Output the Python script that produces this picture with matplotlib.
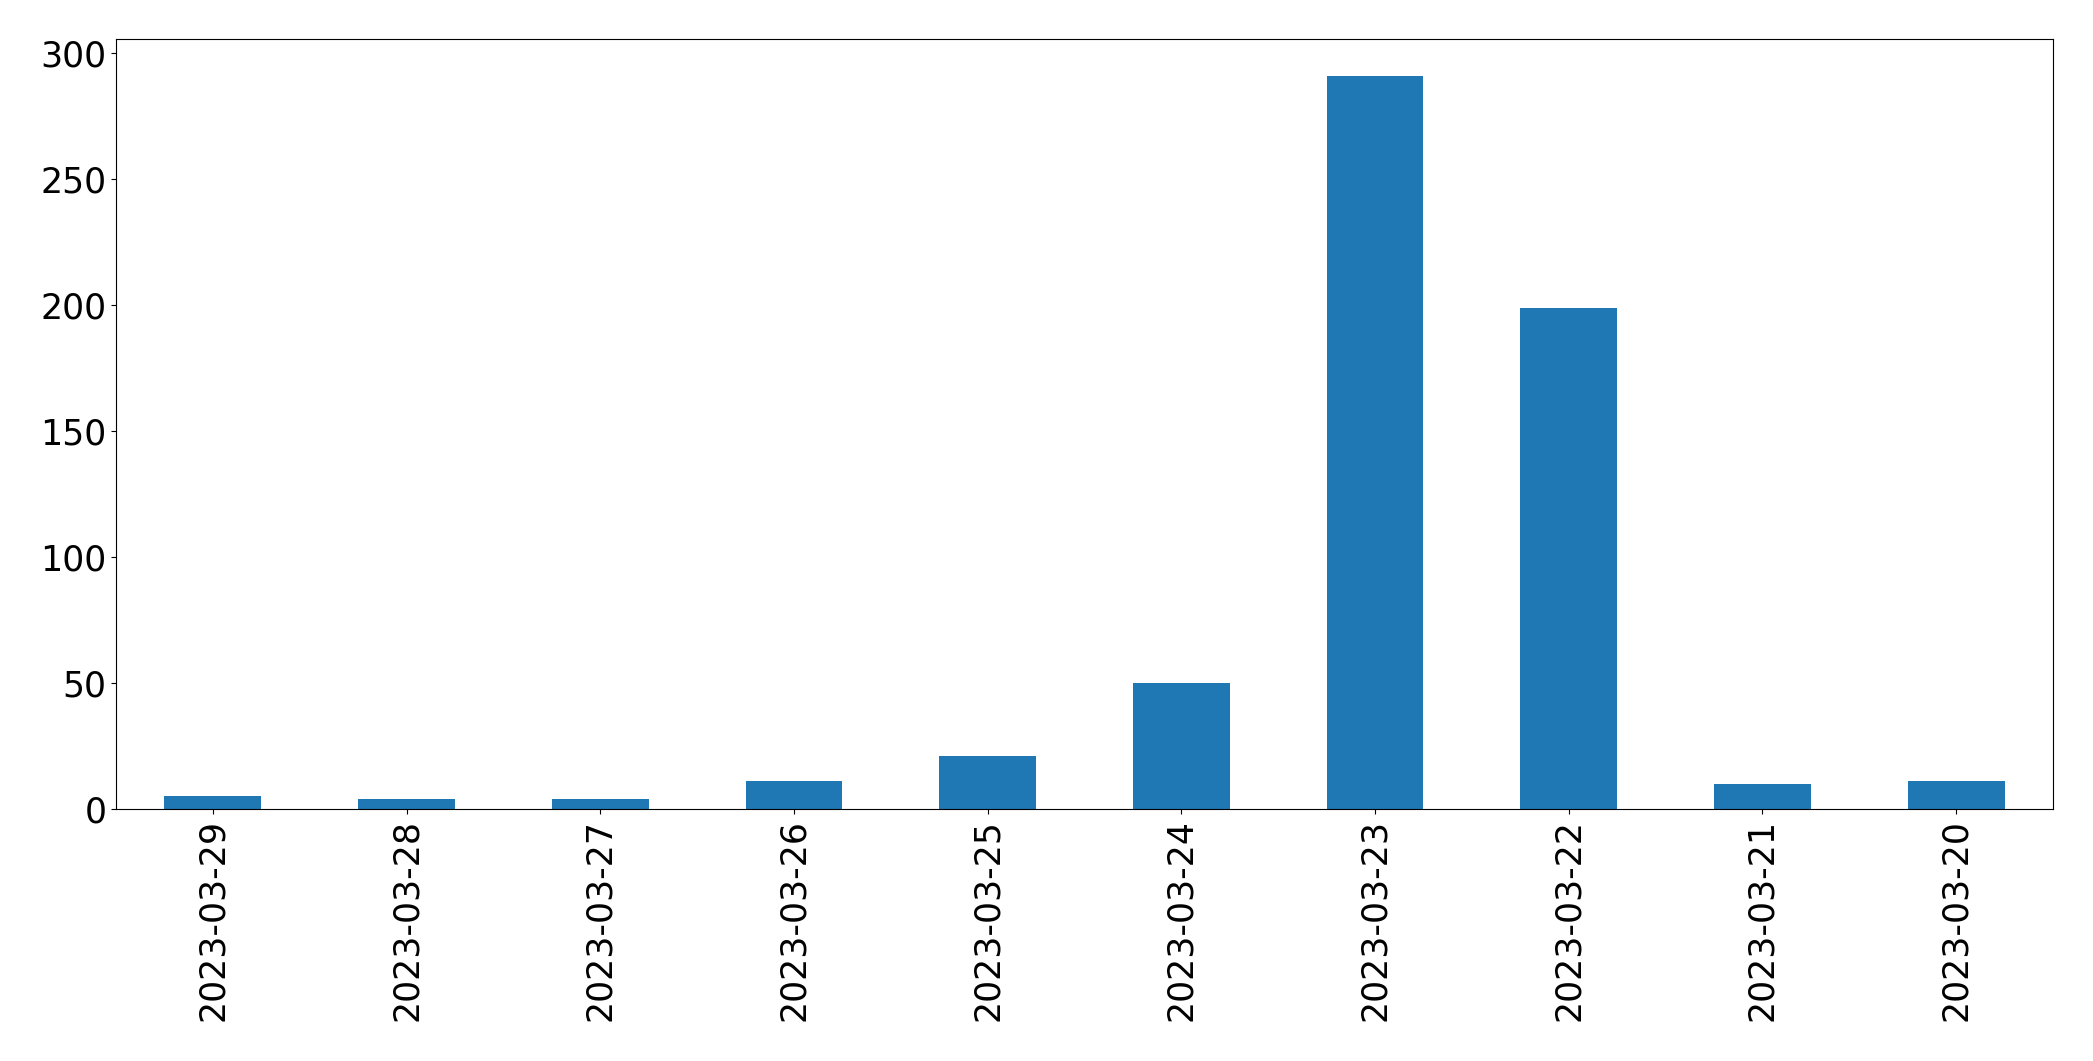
import matplotlib
matplotlib.use("Agg")
import matplotlib.pyplot as plt
import numpy as np

dates = ["2023-03-29", "2023-03-28", "2023-03-27", "2023-03-26", "2023-03-25",
         "2023-03-24", "2023-03-23", "2023-03-22", "2023-03-21", "2023-03-20"]
counts = [5, 4, 4, 11, 21, 50, 291, 199, 10, 11]

fig = plt.figure(figsize=(20.93, 10.61), dpi=100)
ax = fig.add_axes([116/2093, 1-809/1061, (2053-116)/2093, (809-39)/1061])
x = np.arange(len(dates))
ax.bar(x, counts, width=0.5, color="#1f77b4")
ax.set_xlim(-0.5, len(dates)-0.5)
ax.set_xticks(x)
ax.set_xticklabels(dates, rotation=90)
ax.tick_params(axis="both", labelsize=25)
fig.savefig("out.png", dpi=100)
